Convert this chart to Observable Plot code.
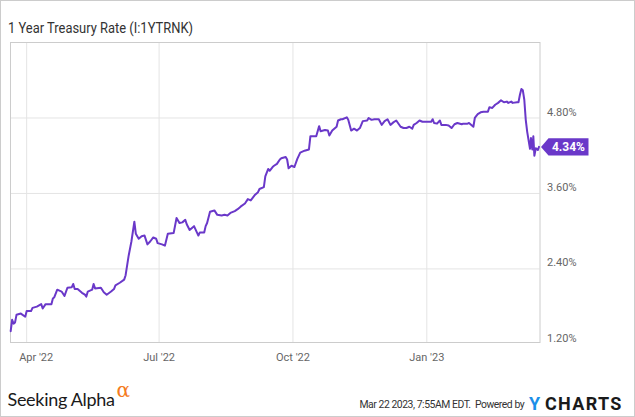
<!DOCTYPE html>
<html><head><meta charset="utf-8">
<script src="https://cdn.jsdelivr.net/npm/d3@7"></script>
<script src="https://cdn.jsdelivr.net/npm/@observablehq/plot@0.6"></script>
<style>
body{margin:0;background:#fff;}
#wrap{position:relative;width:635px;height:417px;overflow:hidden;font-family:Roboto,sans-serif;background:#fff;}
#chart{position:absolute;left:0;top:0;}
#overlay{position:absolute;left:0;top:0;pointer-events:none;}
#border{position:absolute;left:0;top:0;width:633px;height:415px;border:1px solid #ccc;pointer-events:none;}
</style></head>
<body>
<div id="wrap">
  <div id="chart"></div>
  <svg id="overlay" width="635" height="417" font-family="Roboto, sans-serif">
    <text x="8" y="32.5" font-size="14" fill="#333" textLength="185" lengthAdjust="spacingAndGlyphs">1 Year Treasury Rate (I:1YTRNK)</text>
    <text x="7.5" y="406" font-family="Lato, sans-serif" font-size="18" letter-spacing="-0.3" fill="#1a1a1a">Seeking Alpha</text>
    <text x="116.5" y="397" font-family="DejaVu Serif, serif" font-size="20" fill="#f47b20">α</text>
    <text x="359.5" y="407.5" font-size="10.4" letter-spacing="-0.45" fill="#333" xml:space="preserve">Mar 22 2023, 7:55AM EDT.  Powered by</text>
    <text x="529" y="409.5" font-size="18" font-weight="bold" fill="#1b8fe8">Y</text>
    <text x="545" y="409.5" font-size="18" font-weight="bold" letter-spacing="1.3" fill="#1a1a1a">CHARTS</text>
  </svg>
  <div id="border"></div>
</div>
<script>
const dates = [
"2022-03-21","2022-03-22","2022-03-23","2022-03-24","2022-03-25","2022-03-28","2022-03-31","2022-04-01","2022-04-04","2022-04-05",
"2022-04-08","2022-04-11","2022-04-12","2022-04-14","2022-04-18","2022-04-19","2022-04-20","2022-04-22","2022-04-25","2022-04-27",
"2022-04-29","2022-05-02","2022-05-03","2022-05-04","2022-05-06","2022-05-09","2022-05-11","2022-05-12","2022-05-13","2022-05-16",
"2022-05-17","2022-05-18","2022-05-22","2022-05-24","2022-05-26","2022-05-29","2022-05-31","2022-06-01","2022-06-04","2022-06-07",
"2022-06-08","2022-06-10","2022-06-12","2022-06-14","2022-06-15","2022-06-17","2022-06-19","2022-06-21","2022-06-23","2022-06-25",
"2022-06-27","2022-06-29","2022-06-30","2022-07-03","2022-07-05","2022-07-07","2022-07-11","2022-07-13","2022-07-15","2022-07-17",
"2022-07-19","2022-07-20","2022-07-22","2022-07-25","2022-07-28","2022-07-29","2022-08-01","2022-08-02","2022-08-03","2022-08-05",
"2022-08-08","2022-08-10","2022-08-13","2022-08-15","2022-08-17","2022-08-19","2022-08-22","2022-08-24","2022-08-26","2022-08-29",
"2022-08-31","2022-09-02","2022-09-05","2022-09-07","2022-09-08","2022-09-11","2022-09-12","2022-09-14","2022-09-15","2022-09-17",
"2022-09-18","2022-09-20","2022-09-22","2022-09-23","2022-09-26","2022-09-27","2022-09-28","2022-09-30","2022-10-02","2022-10-04",
"2022-10-06","2022-10-09","2022-10-12","2022-10-13","2022-10-17","2022-10-19","2022-10-20","2022-10-23","2022-10-25","2022-10-26",
"2022-10-28","2022-10-31","2022-11-01","2022-11-03","2022-11-04","2022-11-07","2022-11-08","2022-11-10","2022-11-12","2022-11-14",
"2022-11-16","2022-11-18","2022-11-21","2022-11-22","2022-11-24","2022-11-26","2022-11-29","2022-12-01","2022-12-03","2022-12-05",
"2022-12-07","2022-12-09","2022-12-11","2022-12-14","2022-12-16","2022-12-18","2022-12-20","2022-12-22","2022-12-23","2022-12-25",
"2022-12-27","2022-12-29","2023-01-01","2023-01-04","2023-01-05","2023-01-06","2023-01-08","2023-01-10","2023-01-11","2023-01-14",
"2023-01-16","2023-01-18","2023-01-20","2023-01-22","2023-01-25","2023-01-26","2023-01-29","2023-01-30","2023-02-01","2023-02-02",
"2023-02-03","2023-02-05","2023-02-07","2023-02-09","2023-02-12","2023-02-13","2023-02-15","2023-02-17","2023-02-19","2023-02-21",
"2023-02-23","2023-02-25","2023-02-26","2023-02-28","2023-03-01","2023-03-04","2023-03-05","2023-03-06","2023-03-07","2023-03-08",
"2023-03-09","2023-03-10","2023-03-11","2023-03-12T22:00Z","2023-03-13T14:00Z","2023-03-14T12:00Z","2023-03-15T05:00Z","2023-03-15T22:00Z","2023-03-16T22:00Z","2023-03-18T07:00Z",
"2023-03-19T02:00Z"
];
const values = [
1.41,1.59,1.53,1.55,1.67,1.69,1.64,1.73,1.73,1.78,
1.80,1.84,1.77,1.84,1.84,1.93,1.95,2.07,2.04,1.97,
2.10,2.11,2.16,2.08,2.08,2.02,1.99,1.96,2.04,2.07,
2.16,2.09,2.10,2.03,1.99,2.04,2.08,2.14,2.18,2.23,
2.30,2.60,2.84,3.15,2.96,2.88,2.92,2.93,2.79,2.84,
2.90,2.88,2.81,2.79,2.77,2.96,2.97,3.21,3.13,3.14,
3.18,3.11,3.02,3.08,2.93,2.98,2.98,3.08,3.13,3.31,
3.33,3.26,3.25,3.26,3.25,3.29,3.32,3.35,3.39,3.44,
3.51,3.49,3.58,3.62,3.67,3.70,3.87,3.99,3.96,4.02,
4.04,4.07,4.14,4.16,4.18,4.14,4.00,4.04,4.02,4.15,
4.25,4.28,4.30,4.51,4.51,4.67,4.59,4.61,4.60,4.52,
4.60,4.66,4.76,4.78,4.78,4.81,4.77,4.60,4.63,4.60,
4.64,4.75,4.76,4.80,4.77,4.78,4.78,4.69,4.75,4.78,
4.69,4.73,4.76,4.66,4.64,4.64,4.66,4.63,4.69,4.72,
4.76,4.74,4.74,4.74,4.78,4.72,4.71,4.76,4.69,4.69,
4.68,4.64,4.70,4.72,4.70,4.71,4.71,4.72,4.68,4.66,
4.80,4.86,4.89,4.90,4.90,4.97,4.96,5.01,5.04,5.08,
5.05,5.06,5.04,5.06,5.04,5.05,5.05,5.17,5.26,5.24,
5.09,4.77,4.58,4.31,4.48,4.30,4.51,4.20,4.32,4.29,
4.34
];
const xTickDates = ["2022-04-01","2022-07-01","2022-10-01","2023-01-01"];
const xTickLabels = ["Apr '22","Jul '22","Oct '22","Jan '23"];
const yTicks = [1.2, 2.4, 3.6, 4.8];
const yTickLabels = ["1.20%","2.40%","3.60%","4.80%"];
const xDomain = ["2022-03-20T21:00Z","2023-03-19T19:00Z"];
const yDomain = [1.23, 6.0];

const lineColor = "#6a38c9";
const data = dates.map((d, i) => ({date: new Date(d), value: values[i]}));
const xTicks = xTickDates.map(d => new Date(d));
const lastValue = values[values.length - 1];
const lastLabel = lastValue.toFixed(2) + "%";

function lastValueTag(index, scales, channels, dims) {
  const y = scales.y(lastValue) + 0.5;
  const x0 = dims.width - dims.marginRight + 0.5;
  const g = d3.create("svg:g");
  g.append("path")
    .attr("d", `M${x0 + 1},${y} L${x0 + 8.5},${y - 8.7} H${x0 + 48.5} V${y + 8.7} H${x0 + 8.5} Z`)
    .attr("fill", lineColor);
  g.append("text")
    .attr("x", x0 + 28.5).attr("y", y + 4.3)
    .attr("text-anchor", "middle")
    .attr("fill", "#fff").attr("font-weight", "bold").attr("font-size", 12)
    .attr("font-family", "Roboto, sans-serif")
    .text(lastLabel);
  return g.node();
}

const plot = Plot.plot({
  width: 635,
  height: 380,
  marginTop: 42,
  marginBottom: 38,
  marginLeft: 10,
  marginRight: 95.5,
  style: {background: "transparent", fontFamily: "Roboto, sans-serif"},
  x: {type: "utc", domain: xDomain.map(d => new Date(d)), axis: null},
  y: {domain: yDomain, axis: null},
  marks: [
    Plot.ruleY(yTicks.slice(1), {stroke: "#e4e4e4", strokeOpacity: 1}),
    Plot.ruleX(xTicks, {stroke: "#e4e4e4", strokeOpacity: 1}),
    Plot.frame({stroke: "#cccccc"}),
    Plot.line(data, {x: "date", y: "value", stroke: lineColor, strokeWidth: 2}),
    Plot.text(yTicks, {y: d => d, text: (d, i) => yTickLabels[i], frameAnchor: "right", textAnchor: "start", dx: 7, dy: -6, fill: "#666", fontSize: 11}),
    Plot.text(xTicks.slice(0, 1), {x: d => d, text: (d, i) => xTickLabels[i], frameAnchor: "bottom", lineAnchor: "top", dy: 11, dx: 9.5, fill: "#666", fontSize: 11}),
    Plot.text(xTicks.slice(1), {x: d => d, text: (d, i) => xTickLabels[i + 1], frameAnchor: "bottom", lineAnchor: "top", dy: 11, fill: "#666", fontSize: 11}),
    lastValueTag
  ]
});
document.getElementById("chart").appendChild(plot);
</script>
</body></html>
